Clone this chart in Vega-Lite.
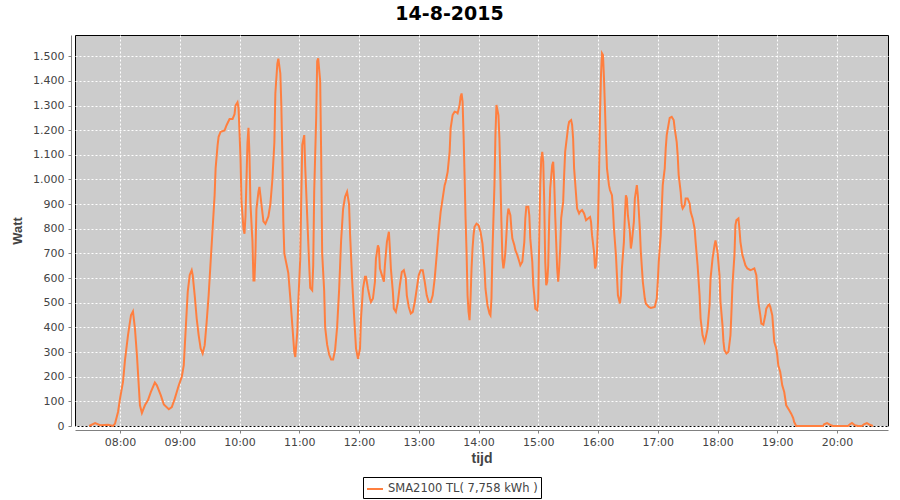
{
  "$schema": "https://vega.github.io/schema/vega-lite/v6.json",
  "autosize": {"type": "none"},
  "width": 813,
  "height": 391,
  "padding": {"top": 35, "left": 75, "right": 12, "bottom": 74},
  "background": "#FFFFFF",
  "title": {"text": "14-8-2015", "font": "DejaVu Sans", "fontSize": 19, "fontWeight": "bold", "color": "#000000", "offset": 11, "dx": -32},
  "data": {
    "values": [
      {"t":"2015-08-14T07:29Z","w":0},{"t":"2015-08-14T07:35Z","w":12},{"t":"2015-08-14T07:40Z","w":3},{"t":"2015-08-14T07:48Z","w":5},{"t":"2015-08-14T07:53Z","w":0},{"t":"2015-08-14T07:55Z","w":10},{"t":"2015-08-14T07:58Z","w":57},
      {"t":"2015-08-14T08:00Z","w":111},{"t":"2015-08-14T08:03Z","w":179},{"t":"2015-08-14T08:05Z","w":267},{"t":"2015-08-14T08:08Z","w":368},{"t":"2015-08-14T08:11Z","w":449},{"t":"2015-08-14T08:13Z","w":465},{"t":"2015-08-14T08:15Z","w":395},{"t":"2015-08-14T08:17Z","w":287},{"t":"2015-08-14T08:19Z","w":152},{"t":"2015-08-14T08:20Z","w":84},{"t":"2015-08-14T08:22Z","w":53},{"t":"2015-08-14T08:25Z","w":84},{"t":"2015-08-14T08:28Z","w":104},{"t":"2015-08-14T08:31Z","w":138},{"t":"2015-08-14T08:35Z","w":176},{"t":"2015-08-14T08:37Z","w":165},{"t":"2015-08-14T08:41Z","w":124},{"t":"2015-08-14T08:44Z","w":87},{"t":"2015-08-14T08:49Z","w":68},{"t":"2015-08-14T08:52Z","w":77},{"t":"2015-08-14T08:55Z","w":111},{"t":"2015-08-14T08:59Z","w":165},
      {"t":"2015-08-14T09:02Z","w":199},{"t":"2015-08-14T09:04Z","w":246},{"t":"2015-08-14T09:06Z","w":395},{"t":"2015-08-14T09:08Z","w":544},{"t":"2015-08-14T09:10Z","w":612},{"t":"2015-08-14T09:12Z","w":632},{"t":"2015-08-14T09:13Z","w":612},{"t":"2015-08-14T09:15Z","w":530},{"t":"2015-08-14T09:17Z","w":436},{"t":"2015-08-14T09:19Z","w":368},{"t":"2015-08-14T09:21Z","w":314},{"t":"2015-08-14T09:23Z","w":294},{"t":"2015-08-14T09:25Z","w":327},{"t":"2015-08-14T09:27Z","w":422},{"t":"2015-08-14T09:29Z","w":530},{"t":"2015-08-14T09:31Z","w":666},{"t":"2015-08-14T09:33Z","w":801},{"t":"2015-08-14T09:35Z","w":936},{"t":"2015-08-14T09:36Z","w":1045},{"t":"2015-08-14T09:38Z","w":1139},{"t":"2015-08-14T09:39Z","w":1173},{"t":"2015-08-14T09:41Z","w":1193},{"t":"2015-08-14T09:45Z","w":1199},{"t":"2015-08-14T09:47Z","w":1220},{"t":"2015-08-14T09:50Z","w":1245},{"t":"2015-08-14T09:53Z","w":1245},{"t":"2015-08-14T09:55Z","w":1265},{"t":"2015-08-14T09:56Z","w":1300},{"t":"2015-08-14T09:58Z","w":1313},{"t":"2015-08-14T09:59Z","w":1290},
      {"t":"2015-08-14T10:00Z","w":1193},{"t":"2015-08-14T10:01Z","w":1086},{"t":"2015-08-14T10:02Z","w":910},{"t":"2015-08-14T10:04Z","w":800},{"t":"2015-08-14T10:05Z","w":780},{"t":"2015-08-14T10:06Z","w":850},{"t":"2015-08-14T10:07Z","w":1000},{"t":"2015-08-14T10:08Z","w":1150},{"t":"2015-08-14T10:09Z","w":1210},{"t":"2015-08-14T10:10Z","w":1100},{"t":"2015-08-14T10:11Z","w":900},{"t":"2015-08-14T10:13Z","w":750},{"t":"2015-08-14T10:14Z","w":590},{"t":"2015-08-14T10:15Z","w":590},{"t":"2015-08-14T10:16Z","w":700},{"t":"2015-08-14T10:17Z","w":880},{"t":"2015-08-14T10:19Z","w":950},{"t":"2015-08-14T10:20Z","w":970},{"t":"2015-08-14T10:22Z","w":900},{"t":"2015-08-14T10:24Z","w":830},{"t":"2015-08-14T10:26Z","w":820},{"t":"2015-08-14T10:29Z","w":850},{"t":"2015-08-14T10:31Z","w":900},{"t":"2015-08-14T10:33Z","w":1000},{"t":"2015-08-14T10:35Z","w":1150},{"t":"2015-08-14T10:36Z","w":1350},{"t":"2015-08-14T10:38Z","w":1470},{"t":"2015-08-14T10:39Z","w":1490},{"t":"2015-08-14T10:41Z","w":1430},{"t":"2015-08-14T10:42Z","w":1300},{"t":"2015-08-14T10:43Z","w":1100},{"t":"2015-08-14T10:44Z","w":830},{"t":"2015-08-14T10:45Z","w":700},{"t":"2015-08-14T10:47Z","w":660},{"t":"2015-08-14T10:49Z","w":620},{"t":"2015-08-14T10:51Z","w":520},{"t":"2015-08-14T10:53Z","w":410},{"t":"2015-08-14T10:55Z","w":300},{"t":"2015-08-14T10:56Z","w":280},{"t":"2015-08-14T10:58Z","w":380},{"t":"2015-08-14T10:59Z","w":500},
      {"t":"2015-08-14T11:01Z","w":680},{"t":"2015-08-14T11:02Z","w":920},{"t":"2015-08-14T11:03Z","w":1140},{"t":"2015-08-14T11:05Z","w":1180},{"t":"2015-08-14T11:06Z","w":1050},{"t":"2015-08-14T11:08Z","w":850},{"t":"2015-08-14T11:10Z","w":650},{"t":"2015-08-14T11:11Z","w":560},{"t":"2015-08-14T11:13Z","w":550},{"t":"2015-08-14T11:14Z","w":650},{"t":"2015-08-14T11:15Z","w":950},{"t":"2015-08-14T11:17Z","w":1250},{"t":"2015-08-14T11:18Z","w":1480},{"t":"2015-08-14T11:19Z","w":1491},{"t":"2015-08-14T11:21Z","w":1400},{"t":"2015-08-14T11:22Z","w":1100},{"t":"2015-08-14T11:23Z","w":700},{"t":"2015-08-14T11:25Z","w":550},{"t":"2015-08-14T11:26Z","w":400},{"t":"2015-08-14T11:28Z","w":330},{"t":"2015-08-14T11:30Z","w":290},{"t":"2015-08-14T11:32Z","w":270},{"t":"2015-08-14T11:34Z","w":270},{"t":"2015-08-14T11:36Z","w":310},{"t":"2015-08-14T11:38Z","w":400},{"t":"2015-08-14T11:40Z","w":550},{"t":"2015-08-14T11:42Z","w":750},{"t":"2015-08-14T11:44Z","w":880},{"t":"2015-08-14T11:46Z","w":930},{"t":"2015-08-14T11:48Z","w":950},{"t":"2015-08-14T11:50Z","w":900},{"t":"2015-08-14T11:51Z","w":780},{"t":"2015-08-14T11:53Z","w":600},{"t":"2015-08-14T11:55Z","w":450},{"t":"2015-08-14T11:57Z","w":314},{"t":"2015-08-14T11:59Z","w":273},
      {"t":"2015-08-14T12:01Z","w":314},{"t":"2015-08-14T12:02Z","w":436},{"t":"2015-08-14T12:04Z","w":557},{"t":"2015-08-14T12:06Z","w":605},{"t":"2015-08-14T12:07Z","w":605},{"t":"2015-08-14T12:09Z","w":557},{"t":"2015-08-14T12:11Z","w":517},{"t":"2015-08-14T12:12Z","w":503},{"t":"2015-08-14T12:14Z","w":517},{"t":"2015-08-14T12:16Z","w":585},{"t":"2015-08-14T12:17Z","w":679},{"t":"2015-08-14T12:19Z","w":733},{"t":"2015-08-14T12:20Z","w":720},{"t":"2015-08-14T12:21Z","w":639},{"t":"2015-08-14T12:23Z","w":612},{"t":"2015-08-14T12:25Z","w":585},{"t":"2015-08-14T12:26Z","w":652},{"t":"2015-08-14T12:28Z","w":747},{"t":"2015-08-14T12:30Z","w":788},{"t":"2015-08-14T12:31Z","w":720},{"t":"2015-08-14T12:32Z","w":639},{"t":"2015-08-14T12:34Z","w":544},{"t":"2015-08-14T12:35Z","w":476},{"t":"2015-08-14T12:37Z","w":463},{"t":"2015-08-14T12:39Z","w":503},{"t":"2015-08-14T12:41Z","w":571},{"t":"2015-08-14T12:43Z","w":625},{"t":"2015-08-14T12:45Z","w":632},{"t":"2015-08-14T12:47Z","w":598},{"t":"2015-08-14T12:48Z","w":530},{"t":"2015-08-14T12:50Z","w":483},{"t":"2015-08-14T12:52Z","w":456},{"t":"2015-08-14T12:54Z","w":463},{"t":"2015-08-14T12:56Z","w":503},{"t":"2015-08-14T12:58Z","w":557},
      {"t":"2015-08-14T13:00Z","w":612},{"t":"2015-08-14T13:02Z","w":632},{"t":"2015-08-14T13:04Z","w":632},{"t":"2015-08-14T13:06Z","w":585},{"t":"2015-08-14T13:08Z","w":530},{"t":"2015-08-14T13:10Z","w":503},{"t":"2015-08-14T13:12Z","w":503},{"t":"2015-08-14T13:14Z","w":530},{"t":"2015-08-14T13:16Z","w":598},{"t":"2015-08-14T13:18Z","w":693},{"t":"2015-08-14T13:20Z","w":788},{"t":"2015-08-14T13:22Z","w":869},{"t":"2015-08-14T13:24Z","w":923},{"t":"2015-08-14T13:26Z","w":977},{"t":"2015-08-14T13:27Z","w":991},{"t":"2015-08-14T13:29Z","w":1031},{"t":"2015-08-14T13:31Z","w":1112},{"t":"2015-08-14T13:32Z","w":1207},{"t":"2015-08-14T13:34Z","w":1261},{"t":"2015-08-14T13:36Z","w":1275},{"t":"2015-08-14T13:38Z","w":1272},{"t":"2015-08-14T13:39Z","w":1268},{"t":"2015-08-14T13:41Z","w":1302},{"t":"2015-08-14T13:42Z","w":1336},{"t":"2015-08-14T13:43Z","w":1349},{"t":"2015-08-14T13:44Z","w":1315},{"t":"2015-08-14T13:45Z","w":1180},{"t":"2015-08-14T13:46Z","w":1018},{"t":"2015-08-14T13:47Z","w":842},{"t":"2015-08-14T13:48Z","w":706},{"t":"2015-08-14T13:49Z","w":530},{"t":"2015-08-14T13:50Z","w":463},{"t":"2015-08-14T13:51Z","w":429},{"t":"2015-08-14T13:52Z","w":517},{"t":"2015-08-14T13:53Z","w":639},{"t":"2015-08-14T13:54Z","w":720},{"t":"2015-08-14T13:55Z","w":774},{"t":"2015-08-14T13:56Z","w":808},{"t":"2015-08-14T13:58Z","w":821},
      {"t":"2015-08-14T14:00Z","w":815},{"t":"2015-08-14T14:02Z","w":788},{"t":"2015-08-14T14:04Z","w":740},{"t":"2015-08-14T14:06Z","w":639},{"t":"2015-08-14T14:07Z","w":557},{"t":"2015-08-14T14:09Z","w":490},{"t":"2015-08-14T14:11Z","w":456},{"t":"2015-08-14T14:12Z","w":449},{"t":"2015-08-14T14:13Z","w":517},{"t":"2015-08-14T14:14Z","w":706},{"t":"2015-08-14T14:16Z","w":977},{"t":"2015-08-14T14:17Z","w":1180},{"t":"2015-08-14T14:18Z","w":1302},{"t":"2015-08-14T14:20Z","w":1261},{"t":"2015-08-14T14:21Z","w":1166},{"t":"2015-08-14T14:22Z","w":1004},{"t":"2015-08-14T14:23Z","w":828},{"t":"2015-08-14T14:24Z","w":679},{"t":"2015-08-14T14:25Z","w":639},{"t":"2015-08-14T14:26Z","w":666},{"t":"2015-08-14T14:27Z","w":706},{"t":"2015-08-14T14:28Z","w":774},{"t":"2015-08-14T14:29Z","w":848},{"t":"2015-08-14T14:30Z","w":882},{"t":"2015-08-14T14:32Z","w":855},{"t":"2015-08-14T14:33Z","w":801},{"t":"2015-08-14T14:34Z","w":760},{"t":"2015-08-14T14:36Z","w":733},{"t":"2015-08-14T14:37Z","w":713},{"t":"2015-08-14T14:39Z","w":693},{"t":"2015-08-14T14:41Z","w":666},{"t":"2015-08-14T14:42Z","w":652},{"t":"2015-08-14T14:44Z","w":666},{"t":"2015-08-14T14:46Z","w":747},{"t":"2015-08-14T14:47Z","w":842},{"t":"2015-08-14T14:48Z","w":889},{"t":"2015-08-14T14:50Z","w":889},{"t":"2015-08-14T14:51Z","w":855},{"t":"2015-08-14T14:52Z","w":760},{"t":"2015-08-14T14:54Z","w":666},{"t":"2015-08-14T14:55Z","w":571},{"t":"2015-08-14T14:56Z","w":530},{"t":"2015-08-14T14:57Z","w":476},{"t":"2015-08-14T14:59Z","w":470},
      {"t":"2015-08-14T15:00Z","w":517},{"t":"2015-08-14T15:01Z","w":774},{"t":"2015-08-14T15:02Z","w":977},{"t":"2015-08-14T15:03Z","w":1085},{"t":"2015-08-14T15:04Z","w":1112},{"t":"2015-08-14T15:05Z","w":1072},{"t":"2015-08-14T15:06Z","w":909},{"t":"2015-08-14T15:07Z","w":666},{"t":"2015-08-14T15:08Z","w":571},{"t":"2015-08-14T15:09Z","w":585},{"t":"2015-08-14T15:10Z","w":652},{"t":"2015-08-14T15:11Z","w":842},{"t":"2015-08-14T15:12Z","w":964},{"t":"2015-08-14T15:14Z","w":1058},{"t":"2015-08-14T15:15Z","w":1072},{"t":"2015-08-14T15:16Z","w":991},{"t":"2015-08-14T15:17Z","w":855},{"t":"2015-08-14T15:18Z","w":747},{"t":"2015-08-14T15:19Z","w":639},{"t":"2015-08-14T15:20Z","w":585},{"t":"2015-08-14T15:21Z","w":639},{"t":"2015-08-14T15:22Z","w":720},{"t":"2015-08-14T15:23Z","w":842},{"t":"2015-08-14T15:25Z","w":909},{"t":"2015-08-14T15:26Z","w":1018},{"t":"2015-08-14T15:27Z","w":1112},{"t":"2015-08-14T15:29Z","w":1180},{"t":"2015-08-14T15:30Z","w":1214},{"t":"2015-08-14T15:31Z","w":1234},{"t":"2015-08-14T15:33Z","w":1241},{"t":"2015-08-14T15:34Z","w":1221},{"t":"2015-08-14T15:35Z","w":1166},{"t":"2015-08-14T15:36Z","w":1045},{"t":"2015-08-14T15:38Z","w":936},{"t":"2015-08-14T15:39Z","w":882},{"t":"2015-08-14T15:41Z","w":862},{"t":"2015-08-14T15:42Z","w":869},{"t":"2015-08-14T15:44Z","w":876},{"t":"2015-08-14T15:46Z","w":862},{"t":"2015-08-14T15:48Z","w":835},{"t":"2015-08-14T15:50Z","w":842},{"t":"2015-08-14T15:52Z","w":848},{"t":"2015-08-14T15:53Z","w":828},{"t":"2015-08-14T15:54Z","w":774},{"t":"2015-08-14T15:56Z","w":706},{"t":"2015-08-14T15:57Z","w":639},{"t":"2015-08-14T15:58Z","w":652},{"t":"2015-08-14T15:59Z","w":706},
      {"t":"2015-08-14T16:00Z","w":828},{"t":"2015-08-14T16:01Z","w":1018},{"t":"2015-08-14T16:02Z","w":1261},{"t":"2015-08-14T16:03Z","w":1424},{"t":"2015-08-14T16:04Z","w":1512},{"t":"2015-08-14T16:05Z","w":1505},{"t":"2015-08-14T16:06Z","w":1410},{"t":"2015-08-14T16:07Z","w":1288},{"t":"2015-08-14T16:08Z","w":1153},{"t":"2015-08-14T16:09Z","w":1045},{"t":"2015-08-14T16:11Z","w":977},{"t":"2015-08-14T16:12Z","w":957},{"t":"2015-08-14T16:14Z","w":936},{"t":"2015-08-14T16:15Z","w":882},{"t":"2015-08-14T16:16Z","w":801},{"t":"2015-08-14T16:18Z","w":693},{"t":"2015-08-14T16:19Z","w":612},{"t":"2015-08-14T16:20Z","w":530},{"t":"2015-08-14T16:22Z","w":497},{"t":"2015-08-14T16:23Z","w":530},{"t":"2015-08-14T16:24Z","w":639},{"t":"2015-08-14T16:26Z","w":747},{"t":"2015-08-14T16:27Z","w":855},{"t":"2015-08-14T16:28Z","w":936},{"t":"2015-08-14T16:29Z","w":923},{"t":"2015-08-14T16:30Z","w":855},{"t":"2015-08-14T16:32Z","w":788},{"t":"2015-08-14T16:33Z","w":720},{"t":"2015-08-14T16:34Z","w":747},{"t":"2015-08-14T16:36Z","w":828},{"t":"2015-08-14T16:37Z","w":923},{"t":"2015-08-14T16:39Z","w":977},{"t":"2015-08-14T16:40Z","w":936},{"t":"2015-08-14T16:42Z","w":801},{"t":"2015-08-14T16:43Z","w":706},{"t":"2015-08-14T16:45Z","w":585},{"t":"2015-08-14T16:47Z","w":517},{"t":"2015-08-14T16:48Z","w":497},{"t":"2015-08-14T16:51Z","w":483},{"t":"2015-08-14T16:53Z","w":479},{"t":"2015-08-14T16:57Z","w":483},{"t":"2015-08-14T16:59Z","w":517},
      {"t":"2015-08-14T17:00Z","w":585},{"t":"2015-08-14T17:01Z","w":666},{"t":"2015-08-14T17:03Z","w":774},{"t":"2015-08-14T17:04Z","w":882},{"t":"2015-08-14T17:05Z","w":977},{"t":"2015-08-14T17:07Z","w":1045},{"t":"2015-08-14T17:08Z","w":1126},{"t":"2015-08-14T17:09Z","w":1180},{"t":"2015-08-14T17:11Z","w":1227},{"t":"2015-08-14T17:12Z","w":1250},{"t":"2015-08-14T17:14Z","w":1254},{"t":"2015-08-14T17:16Z","w":1241},{"t":"2015-08-14T17:17Z","w":1207},{"t":"2015-08-14T17:19Z","w":1153},{"t":"2015-08-14T17:20Z","w":1099},{"t":"2015-08-14T17:21Z","w":1018},{"t":"2015-08-14T17:23Z","w":950},{"t":"2015-08-14T17:24Z","w":896},{"t":"2015-08-14T17:25Z","w":882},{"t":"2015-08-14T17:27Z","w":896},{"t":"2015-08-14T17:28Z","w":923},{"t":"2015-08-14T17:30Z","w":923},{"t":"2015-08-14T17:32Z","w":903},{"t":"2015-08-14T17:33Z","w":869},{"t":"2015-08-14T17:35Z","w":842},{"t":"2015-08-14T17:37Z","w":801},{"t":"2015-08-14T17:38Z","w":747},{"t":"2015-08-14T17:40Z","w":652},{"t":"2015-08-14T17:42Z","w":530},{"t":"2015-08-14T17:43Z","w":436},{"t":"2015-08-14T17:45Z","w":368},{"t":"2015-08-14T17:47Z","w":341},{"t":"2015-08-14T17:48Z","w":355},{"t":"2015-08-14T17:50Z","w":395},{"t":"2015-08-14T17:52Z","w":490},{"t":"2015-08-14T17:53Z","w":598},{"t":"2015-08-14T17:55Z","w":679},{"t":"2015-08-14T17:57Z","w":733},{"t":"2015-08-14T17:58Z","w":753},
      {"t":"2015-08-14T18:00Z","w":706},{"t":"2015-08-14T18:02Z","w":612},{"t":"2015-08-14T18:03Z","w":503},{"t":"2015-08-14T18:05Z","w":409},{"t":"2015-08-14T18:06Z","w":341},{"t":"2015-08-14T18:07Z","w":307},{"t":"2015-08-14T18:09Z","w":294},{"t":"2015-08-14T18:11Z","w":301},{"t":"2015-08-14T18:13Z","w":368},{"t":"2015-08-14T18:14Z","w":463},{"t":"2015-08-14T18:15Z","w":571},{"t":"2015-08-14T18:17Z","w":693},{"t":"2015-08-14T18:18Z","w":815},{"t":"2015-08-14T18:19Z","w":835},{"t":"2015-08-14T18:21Z","w":842},{"t":"2015-08-14T18:22Z","w":801},{"t":"2015-08-14T18:23Z","w":747},{"t":"2015-08-14T18:25Z","w":693},{"t":"2015-08-14T18:27Z","w":666},{"t":"2015-08-14T18:28Z","w":652},{"t":"2015-08-14T18:30Z","w":639},{"t":"2015-08-14T18:33Z","w":632},{"t":"2015-08-14T18:35Z","w":635},{"t":"2015-08-14T18:37Z","w":639},{"t":"2015-08-14T18:39Z","w":612},{"t":"2015-08-14T18:40Z","w":557},{"t":"2015-08-14T18:41Z","w":503},{"t":"2015-08-14T18:43Z","w":449},{"t":"2015-08-14T18:44Z","w":415},{"t":"2015-08-14T18:46Z","w":411},{"t":"2015-08-14T18:48Z","w":449},{"t":"2015-08-14T18:49Z","w":476},{"t":"2015-08-14T18:51Z","w":490},{"t":"2015-08-14T18:52Z","w":493},{"t":"2015-08-14T18:53Z","w":483},{"t":"2015-08-14T18:55Z","w":449},{"t":"2015-08-14T18:56Z","w":395},{"t":"2015-08-14T18:57Z","w":341},{"t":"2015-08-14T18:59Z","w":314},
      {"t":"2015-08-14T19:00Z","w":287},{"t":"2015-08-14T19:01Z","w":246},{"t":"2015-08-14T19:03Z","w":219},{"t":"2015-08-14T19:04Z","w":192},{"t":"2015-08-14T19:05Z","w":165},{"t":"2015-08-14T19:07Z","w":138},{"t":"2015-08-14T19:08Z","w":111},{"t":"2015-08-14T19:09Z","w":84},{"t":"2015-08-14T19:12Z","w":64},{"t":"2015-08-14T19:14Z","w":50},{"t":"2015-08-14T19:16Z","w":32},{"t":"2015-08-14T19:17Z","w":16},{"t":"2015-08-14T19:19Z","w":0},{"t":"2015-08-14T19:46Z","w":0},{"t":"2015-08-14T19:47Z","w":7},{"t":"2015-08-14T19:50Z","w":12},{"t":"2015-08-14T19:54Z","w":3},{"t":"2015-08-14T19:56Z","w":0},
      {"t":"2015-08-14T20:11Z","w":0},{"t":"2015-08-14T20:13Z","w":7},{"t":"2015-08-14T20:15Z","w":12},{"t":"2015-08-14T20:18Z","w":3},{"t":"2015-08-14T20:21Z","w":0},{"t":"2015-08-14T20:25Z","w":0},{"t":"2015-08-14T20:27Z","w":7},{"t":"2015-08-14T20:30Z","w":12},{"t":"2015-08-14T20:33Z","w":5},{"t":"2015-08-14T20:36Z","w":0}
    ]
  },
  "mark": {"type": "line", "strokeWidth": 2},
  "encoding": {
    "x": {
      "field": "t", "type": "temporal",
      "scale": {"type": "utc", "domain": [1439536488000, 1439585472000]},
      "axis": {
        "title": "tijd", "format": "%H:%M",
        "values": [1439539200000, 1439542800000, 1439546400000, 1439550000000, 1439553600000, 1439557200000, 1439560800000, 1439564400000, 1439568000000, 1439571600000, 1439575200000, 1439578800000, 1439582400000],
        "offset": 4, "domainColor": "#808080", "tickColor": "#808080", "tickSize": 3,
        "labelPadding": 3, "labelColor": "#444444", "labelFont": "DejaVu Sans", "labelFontSize": 11,
        "labelFlush": false, "labelOverlap": false,
        "gridColor": "#FFFFFF", "gridDash": [2, 2], "gridOpacity": 1, "gridWidth": 1,
        "titleFont": "Liberation Sans", "titleFontSize": 14, "titleFontWeight": "bold", "titleColor": "#444444", "titlePadding": 4
      }
    },
    "y": {
      "field": "w", "type": "quantitative",
      "scale": {"domain": [0, 1586], "nice": false},
      "axis": {
        "title": "Watt", "values": [0, 100, 200, 300, 400, 500, 600, 700, 800, 900, 1000, 1100, 1200, 1300, 1400, 1500],
        "labelExpr": "datum.value >= 1000 ? '1.' + (datum.value == 1000 ? '000' : toString(datum.value - 1000)) : toString(datum.value)",
        "offset": 4, "domainColor": "#808080", "tickColor": "#808080", "tickSize": 3,
        "labelPadding": 4, "labelColor": "#444444", "labelFont": "DejaVu Sans", "labelFontSize": 11,
        "labelOverlap": false,
        "gridColor": "#FFFFFF", "gridDash": [2, 2], "gridOpacity": 1, "gridWidth": 1,
        "titleFont": "Liberation Sans", "titleFontSize": 13, "titleFontWeight": "bold", "titleColor": "#444444", "titlePadding": 8
      }
    },
    "color": {
      "datum": "SMA2100 TL( 7,758 kWh )", "type": "nominal",
      "scale": {"range": ["#FF7F3F"]},
      "legend": {
        "title": null, "orient": "none", "legendX": 288, "legendY": 442,
        "padding": 3, "strokeColor": "#000000", "fillColor": "#FFFFFF",
        "symbolType": "stroke", "symbolSize": 256, "symbolStrokeWidth": 2,
        "labelFont": "DejaVu Sans", "labelFontSize": 11.5, "labelColor": "#444444", "labelOffset": 4
      }
    }
  },
  "config": {
    "font": "DejaVu Sans",
    "view": {"fill": "#CCCCCC", "stroke": "#000000", "strokeWidth": 1}
  }
}
